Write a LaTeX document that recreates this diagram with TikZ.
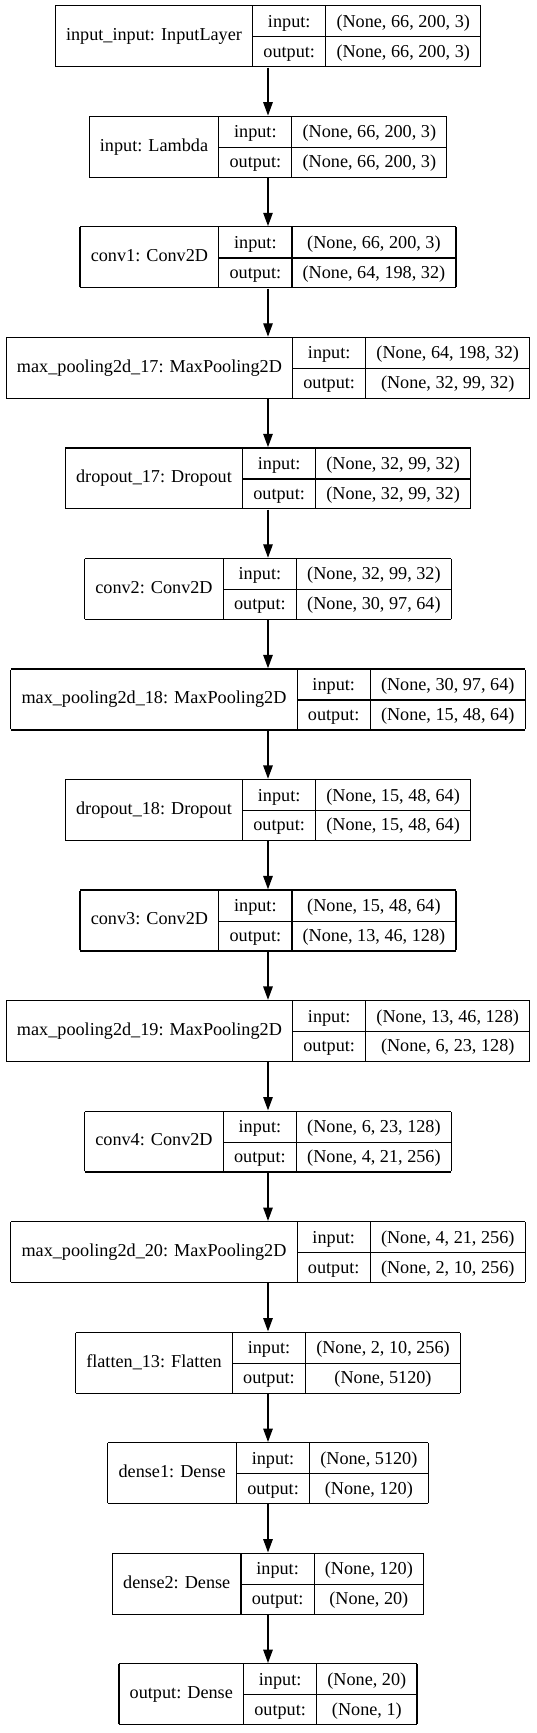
\documentclass[tikz,border=0pt]{standalone}
\usepackage{fontspec}
\setmainfont{Liberation Serif}
\usepackage{multirow}
\usetikzlibrary{positioning,arrows.meta}

\setlength{\tabcolsep}{10.75pt}
\setlength{\arrayrulewidth}{1.2pt}
\renewcommand{\arraystretch}{1.37}

% one layer record: name, input shape, output shape
\newcommand{\layer}[3]{%
  \begin{tabular}{|c|c|c|}
  \hline
  \multirow{2}{*}{#1} & input: & #2 \\ \cline{2-3}
  & output: & #3 \\
  \hline
  \end{tabular}}

\begin{document}
\begin{tikzpicture}
[ x=1pt, y=-1pt, node distance=48pt
, layerbox/.style={inner sep=0pt, font=\fontsize{18.2}{21.8}\selectfont}
, flow/.style={-{Triangle[length=13.3pt, width=9.5pt]}, line width=1.2pt}
]
\useasboundingbox (0,0) rectangle (536,1733);
% records, top to bottom
\node (inp) [layerbox, anchor=north] at (268,5)
  {\layer{input\_input: InputLayer}{(None, 66, 200, 3)}{(None, 66, 200, 3)}};
\node (lam) [layerbox, below=of inp]
  {\layer{input: Lambda}{(None, 66, 200, 3)}{(None, 66, 200, 3)}};
\node (conv1) [layerbox, below=of lam]
  {\layer{conv1: Conv2D}{(None, 66, 200, 3)}{(None, 64, 198, 32)}};
\node (pool17) [layerbox, below=of conv1]
  {\layer{max\_pooling2d\_17: MaxPooling2D}{(None, 64, 198, 32)}{(None, 32, 99, 32)}};
\node (drop17) [layerbox, below=of pool17]
  {\layer{dropout\_17: Dropout}{(None, 32, 99, 32)}{(None, 32, 99, 32)}};
\node (conv2) [layerbox, below=of drop17]
  {\layer{conv2: Conv2D}{(None, 32, 99, 32)}{(None, 30, 97, 64)}};
\node (pool18) [layerbox, below=of conv2]
  {\layer{max\_pooling2d\_18: MaxPooling2D}{(None, 30, 97, 64)}{(None, 15, 48, 64)}};
\node (drop18) [layerbox, below=of pool18]
  {\layer{dropout\_18: Dropout}{(None, 15, 48, 64)}{(None, 15, 48, 64)}};
\node (conv3) [layerbox, below=of drop18]
  {\layer{conv3: Conv2D}{(None, 15, 48, 64)}{(None, 13, 46, 128)}};
\node (pool19) [layerbox, below=of conv3]
  {\layer{max\_pooling2d\_19: MaxPooling2D}{(None, 13, 46, 128)}{(None, 6, 23, 128)}};
\node (conv4) [layerbox, below=of pool19]
  {\layer{conv4: Conv2D}{(None, 6, 23, 128)}{(None, 4, 21, 256)}};
\node (pool20) [layerbox, below=of conv4]
  {\layer{max\_pooling2d\_20: MaxPooling2D}{(None, 4, 21, 256)}{(None, 2, 10, 256)}};
\node (flat13) [layerbox, below=of pool20]
  {\layer{flatten\_13: Flatten}{(None, 2, 10, 256)}{(None, 5120)}};
\node (dense1) [layerbox, below=of flat13]
  {\layer{dense1: Dense}{(None, 5120)}{(None, 120)}};
\node (dense2) [layerbox, below=of dense1]
  {\layer{dense2: Dense}{(None, 120)}{(None, 20)}};
\node (out) [layerbox, below=of dense2]
  {\layer{output: Dense}{(None, 20)}{(None, 1)}};
% arrows
\draw [flow] (inp) -- (lam);
\draw [flow] (lam) -- (conv1);
\draw [flow] (conv1) -- (pool17);
\draw [flow] (pool17) -- (drop17);
\draw [flow] (drop17) -- (conv2);
\draw [flow] (conv2) -- (pool18);
\draw [flow] (pool18) -- (drop18);
\draw [flow] (drop18) -- (conv3);
\draw [flow] (conv3) -- (pool19);
\draw [flow] (pool19) -- (conv4);
\draw [flow] (conv4) -- (pool20);
\draw [flow] (pool20) -- (flat13);
\draw [flow] (flat13) -- (dense1);
\draw [flow] (dense1) -- (dense2);
\draw [flow] (dense2) -- (out);
\end{tikzpicture}
\end{document}
